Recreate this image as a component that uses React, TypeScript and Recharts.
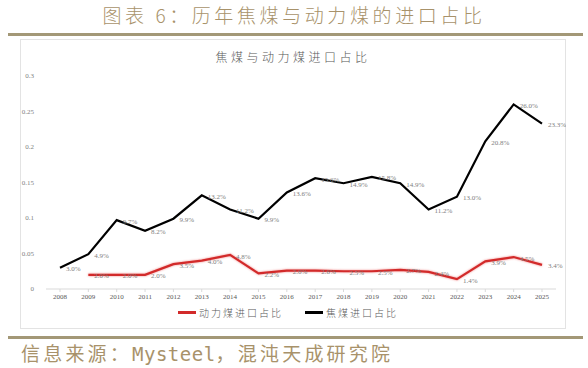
import { LabelList, Legend, Line, LineChart, XAxis, YAxis } from "recharts";

const years = [
  "2008", "2009", "2010", "2011", "2012", "2013", "2014", "2015", "2016",
  "2017", "2018", "2019", "2020", "2021", "2022", "2023", "2024", "2025",
];
// 焦煤进口占比
const cokingShare = [
  0.03, 0.049, 0.097, 0.082, 0.099, 0.132, 0.112, 0.099, 0.136,
  0.156, 0.149, 0.158, 0.149, 0.112, 0.13, 0.208, 0.26, 0.233,
];
// 动力煤进口占比 (2008 无数据)
const thermalShare = [
  null, 0.02, 0.02, 0.02, 0.035, 0.04, 0.048, 0.022, 0.026,
  0.026, 0.025, 0.025, 0.027, 0.024, 0.014, 0.039, 0.045, 0.034,
];
const yTicks = [0, 0.05, 0.1, 0.15, 0.2, 0.25, 0.3];

const chartData = years.map((year, i) => ({
  year,
  thermal: thermalShare[i],
  coking: cokingShare[i],
}));

const gold = "#a8926a";
const rule = "#a39877";
const cjk = '"Noto Sans CJK SC", sans-serif';
const serif = '"Liberation Serif", "Times New Roman", serif';

const renderLabel = (props: any) => {
  const x = props.x ?? props.viewBox?.x;
  const y = props.y ?? props.viewBox?.y;
  if (props.value == null || x == null || y == null) return null;
  return (
    <text
      x={x + 6}
      y={y + 2}
      fontSize={7}
      fill="#808080"
      fontFamily={serif}
      dominantBaseline="middle"
    >
      {(Number(props.value) * 100).toFixed(1) + "%"}
    </text>
  );
};

const legendItems = [
  { label: "动力煤进口占比", color: "#d22a2a" },
  { label: "焦煤进口占比", color: "#000000" },
];

const renderLegend = () => (
  <div style={{ display: "flex", justifyContent: "center", gap: 22, fontFamily: cjk }}>
    {legendItems.map((item) => (
      <div key={item.label} style={{ display: "flex", alignItems: "center" }}>
        <span style={{ width: 18, height: 3, background: item.color, marginRight: 3 }} />
        <span style={{ fontSize: 10, letterSpacing: 2, color: "#595959", fontWeight: 300 }}>
          {item.label}
        </span>
      </div>
    ))}
  </div>
);

export default function App() {
  return (
    <div style={{ position: "absolute", left: 0, top: 0, width: 588, height: 368, background: "#fff" }}>
      <div
        style={{
          position: "absolute",
          top: 2,
          left: 0,
          width: 588,
          textAlign: "center",
          fontFamily: cjk,
          fontSize: 19,
          fontWeight: 300,
          letterSpacing: 3.6,
          color: gold,
          lineHeight: "26px",
        }}
      >
        图表 6：历年焦煤与动力煤的进口占比
      </div>
      <div style={{ position: "absolute", left: 8, top: 33, width: 575, height: 2.5, background: rule }} />

      <div
        style={{
          position: "absolute",
          left: 20,
          top: 39,
          width: 546,
          height: 290,
          border: "1px solid #e3e3e3",
          boxSizing: "border-box",
        }}
      >
        <div
          style={{
            position: "absolute",
            top: 8,
            left: 0,
            width: "100%",
            textAlign: "center",
            fontFamily: cjk,
            fontSize: 12,
            fontWeight: 300,
            letterSpacing: 3.5,
            color: "#595959",
          }}
        >
          焦煤与动力煤进口占比
        </div>
        <LineChart
          width={546}
          height={290}
          data={chartData}
          margin={{ top: 37, right: 10, bottom: 4, left: 0 }}
          style={{ position: "absolute", left: -1, top: -1 }}
        >
          <XAxis
            dataKey="year"
            padding={{ left: 14, right: 14 }}
            height={16}
            axisLine={{ stroke: "#d9d9d9" }}
            tickLine={{ stroke: "#d9d9d9" }}
            tickSize={3}
            tick={{ fontSize: 7, fill: "#595959", fontFamily: serif }}
            interval={0}
          />
          <YAxis
            domain={[0, 0.3]}
            ticks={yTicks}
            width={26}
            axisLine={false}
            tickLine={false}
            tickMargin={6}
            tick={{ fontSize: 7, fill: "#7f7f7f", fontFamily: serif }}
            tickFormatter={(v) => String(Number(v.toFixed(2)))}
          />
          <Legend verticalAlign="bottom" height={20} content={renderLegend} />
          <Line
            dataKey="thermal"
            name="动力煤进口占比"
            stroke="#d22a2a"
            strokeWidth={2.2}
            dot={false}
            isAnimationActive={false}
            style={{ filter: "drop-shadow(0 0 1.2px rgba(235, 90, 90, 0.7))" }}
          >
            <LabelList dataKey="thermal" content={renderLabel} />
          </Line>
          <Line
            dataKey="coking"
            name="焦煤进口占比"
            stroke="#000000"
            strokeWidth={2.2}
            dot={false}
            isAnimationActive={false}
          >
            <LabelList dataKey="coking" content={renderLabel} />
          </Line>
        </LineChart>
      </div>

      <div style={{ position: "absolute", left: 8, top: 336, width: 575, height: 2.5, background: rule }} />
      <div
        style={{
          position: "absolute",
          top: 341,
          left: 21,
          fontFamily: '"DejaVu Sans Mono", "Noto Sans CJK SC", monospace',
          fontSize: 19,
          letterSpacing: 3.2,
          color: gold,
          lineHeight: "26px",
          whiteSpace: "nowrap",
        }}
      >
        信息来源：<span style={{ letterSpacing: 0.5 }}>Mysteel</span>，混沌天成研究院
      </div>
    </div>
  );
}
